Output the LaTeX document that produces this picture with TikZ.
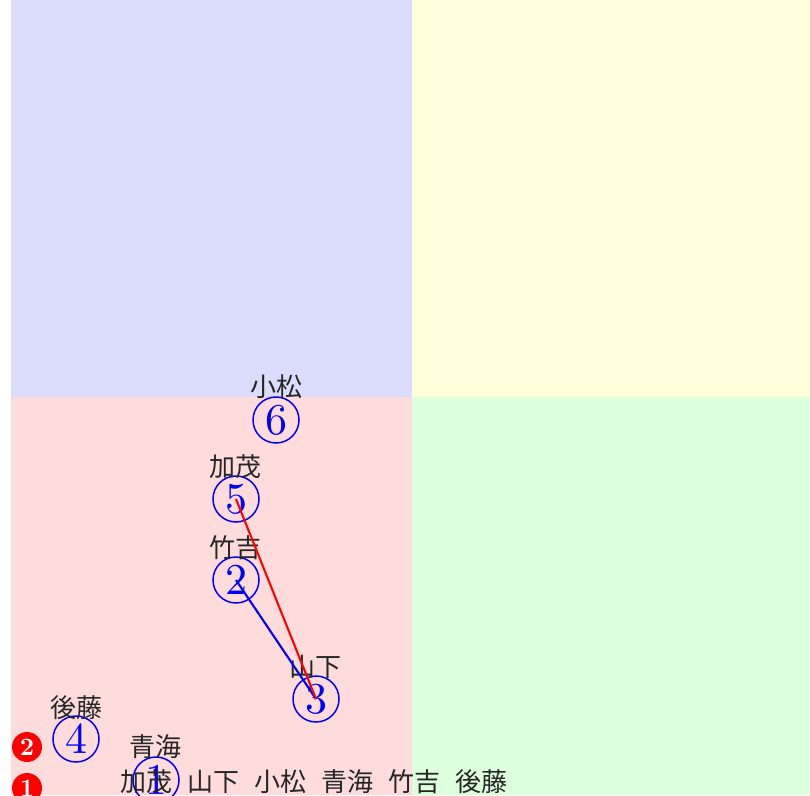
\documentclass[tikz,border=0pt]{standalone}
\usepackage{fontspec}
\newfontfamily\cjk{Noto Sans CJK JP}
\newfontfamily\lmten{lmroman10-regular}[Extension=.otf]
\newfontfamily\lmtenbf{lmroman10-bold}[Extension=.otf]
\definecolor{qblue}{RGB}{220,220,255}
\definecolor{qyellow}{RGB}{255,255,220}
\definecolor{qred}{RGB}{255,220,220}
\definecolor{qgreen}{RGB}{220,255,220}
\tikzset{
  circnum/.style={circle, draw=blue, line width=1.5pt, minimum size=46pt, inner sep=0pt,
    text=blue, font=\lmten\fontsize{44}{44}\selectfont},
  namelab/.style={inner sep=0pt, text=black!85, font=\cjk\fontsize{26}{26}\selectfont},
  reddisk/.style={circle, fill=red, minimum size=30pt, inner sep=0pt, text=white,
    font=\lmtenbf\fontsize{25}{25}\selectfont},
  link/.style={line width=2.1pt}
}
\begin{document}
\begin{tikzpicture}[x=1pt,y=-1pt]
\useasboundingbox (0,0) rectangle (810,795);
\fill[qblue] (11,0) rectangle (412,397);
\fill[qyellow] (412,0) rectangle (810,397);
\fill[qred] (11,397) rectangle (412,795);
\fill[qgreen] (412,397) rectangle (810,795);

\node[circnum] (n6) at (276,420) {6};
\node[namelab] (l6) at (276,387) {小松};
\node[circnum] (n5) at (236,499) {5};
\node[namelab] (l5) at (235,467) {加茂};
\node[circnum] (n2) at (236,580) {2};
\node[namelab] (l2) at (235,548) {竹吉};
\node[circnum] (n3) at (316,699) {3};
\node[namelab] (l3) at (315,667) {山下};
\node[circnum] (n4) at (76,739) {4};
\node[namelab] (l4) at (76,708) {後藤};
\node[circnum] (n1) at (156,780) {1};
\node[namelab] (l1) at (155,747) {青海};

\draw[link, blue] (n2.center) -- (n3.center);
\draw[link, red] (n5.center) -- (n3.center);

\node[namelab] (row) at (314,782) {加茂\hspace{15pt}山下\hspace{15pt}小松\hspace{15pt}青海\hspace{15pt}竹吉\hspace{15pt}後藤};

\node[reddisk] (r2) at (27,747) {2};
\node[reddisk] (r1) at (27,788) {1};
\end{tikzpicture}
\end{document}
